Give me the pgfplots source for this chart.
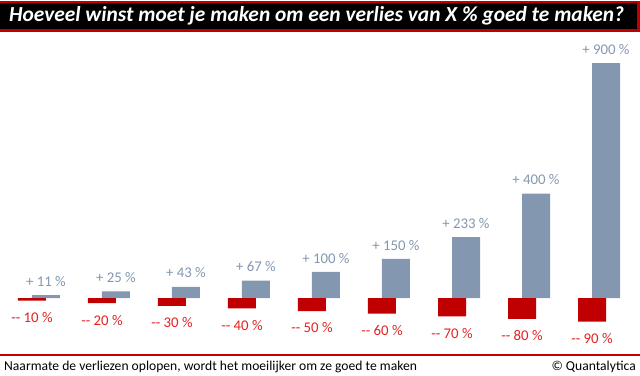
\documentclass[border=0pt]{standalone}
\usepackage{pgfplots}
\pgfplotsset{compat=1.18}
\usepackage{fontspec}
\setmainfont{Carlito}
\definecolor{barblue}{RGB}{132,151,176}
\definecolor{barred}{RGB}{192,0,0}
\definecolor{labred}{RGB}{226,34,34}
\begin{document}
\begin{tikzpicture}[x=1pt,y=1pt]
\path[use as bounding box] (0,0) rectangle (640,375);
\begin{axis}[at={(0,0)}, anchor=south west, scale only axis, width=640pt, height=375pt,
  hide axis, clip=false, xmin=-0.5571, xmax=8.5857, ymin=-295, ymax=1142,
  point meta=explicit symbolic]
\addplot[ybar, bar width=0.4, bar shift=0.1, fill=barblue, draw=none,
  nodes near coords={+ \pgfplotspointmeta\ \%},
  every node near coord/.style={anchor=south, inner sep=0pt, xshift=7pt, yshift=8.5pt, text=barblue, font=\fontsize{14.8}{16}\selectfont}]
coordinates {(0,11.1)[11] (1,25)[25] (2,42.9)[43] (3,66.7)[67] (4,100)[100] (5,150)[150] (6,233.3)[233] (7,400)[400] (8,900)[900]};
\addplot[ybar, bar width=0.4, bar shift=-0.1, fill=barred, draw=none,
  nodes near coords={-{}- \pgfplotspointmeta\ \%},
  every node near coord/.style={anchor=north, inner sep=0pt, xshift=-7pt, yshift=-11.5pt, text=labred, font=\fontsize{14.8}{16}\selectfont}]
coordinates {(0,-10)[10] (1,-20)[20] (2,-30)[30] (3,-40)[40] (4,-50)[50] (5,-60)[60] (6,-70)[70] (7,-80)[80] (8,-90)[90]};
\end{axis}
\draw[barred, line width=2.6pt, fill=black] (-3,344.6) rectangle (638.7,372.8);
\node[anchor=west, text=white, inner sep=0pt, font=\fontsize{21.4}{24}\selectfont\bfseries\itshape] at (9,359) {Hoeveel winst moet je maken om een verlies van X \% goed te maken?};
\draw[barred, line width=1.2pt] (0,20) -- (640,20);
\node[anchor=base west, inner sep=0pt, font=\fontsize{13.6}{16}\selectfont] at (4,4.2) {Naarmate de verliezen oplopen, wordt het moeilijker om ze goed te maken};
\node[anchor=base east, inner sep=0pt, font=\fontsize{13.6}{16}\selectfont] at (636,4.2) {© Quantalytica};
\end{tikzpicture}
\end{document}
